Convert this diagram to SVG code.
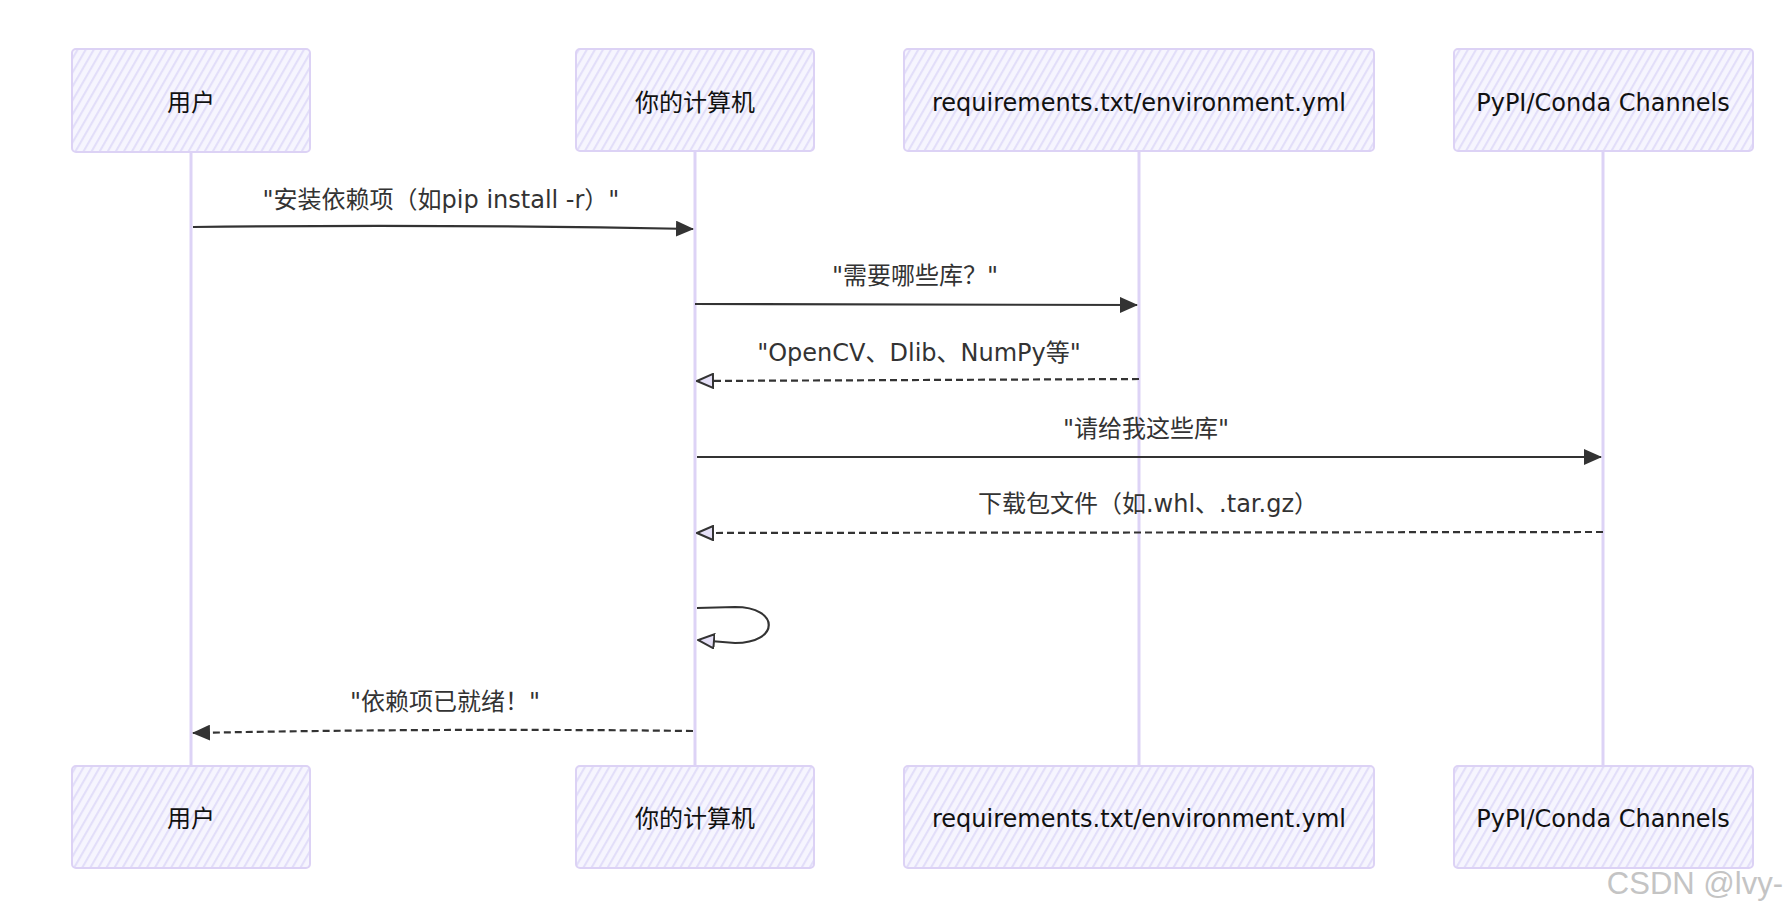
<svg xmlns="http://www.w3.org/2000/svg" width="1790" height="912" viewBox="0 0 1790 912">
<defs>
<pattern id="hatch" patternUnits="userSpaceOnUse" width="7" height="7" patternTransform="rotate(30)">
<rect width="7" height="7" fill="#f6f5fe"/>
<line x1="1" y1="0" x2="1" y2="7" stroke="#e2def9" stroke-width="2.2"/>
</pattern>
<marker id="solid" markerWidth="18" markerHeight="16" refX="17" refY="8" orient="auto" markerUnits="userSpaceOnUse">
<path d="M0,0 L18,8 L0,16 Z" fill="#333"/>
</marker>
<marker id="open" markerWidth="18" markerHeight="16" refX="17" refY="8" orient="auto" markerUnits="userSpaceOnUse">
<path d="M1,1 L17,8 L1,15 Z" fill="#e6e1f8" stroke="#333" stroke-width="2"/>
</marker>
<style>
.box{fill:url(#hatch);stroke:#dcd2f5;stroke-width:2}
.life{stroke:#ddd3f6;stroke-width:3;fill:none}
.atxt{font-family:"DejaVu Sans","Noto Sans CJK SC",sans-serif;font-size:24px;fill:#111;text-anchor:middle}
.mtxt{font-family:"DejaVu Sans","Noto Sans CJK SC",sans-serif;font-size:24px;fill:#333;text-anchor:middle}
.msg{stroke:#333;stroke-width:2.2;fill:none}
.dash{stroke-dasharray:7,4}
</style>
</defs>
<rect width="1790" height="912" fill="#fff"/>
<g id="lifelines">
<line class="life" x1="191" y1="152" x2="191" y2="765"/>
<line class="life" x1="695" y1="152" x2="695" y2="765"/>
<line class="life" x1="1139" y1="152" x2="1139" y2="765"/>
<line class="life" x1="1603" y1="152" x2="1603" y2="765"/>
</g>
<g id="actor-user-top"><rect class="box" x="72" y="49" width="238" height="103" rx="4"/><text class="atxt" x="191" y="111">用户</text></g>
<g id="actor-pc-top"><rect class="box" x="576" y="49" width="238" height="102" rx="4"/><text class="atxt" x="695" y="111">你的计算机</text></g>
<g id="actor-req-top"><rect class="box" x="904" y="49" width="470" height="102" rx="4"/><text class="atxt" x="1139" y="111">requirements.txt/environment.yml</text></g>
<g id="actor-pypi-top"><rect class="box" x="1454" y="49" width="299" height="102" rx="4"/><text class="atxt" x="1603" y="111">PyPI/Conda Channels</text></g>
<g id="actor-user-bottom"><rect class="box" x="72" y="766" width="238" height="102" rx="4"/><text class="atxt" x="191" y="827">用户</text></g>
<g id="actor-pc-bottom"><rect class="box" x="576" y="766" width="238" height="102" rx="4"/><text class="atxt" x="695" y="827">你的计算机</text></g>
<g id="actor-req-bottom"><rect class="box" x="904" y="766" width="470" height="102" rx="4"/><text class="atxt" x="1139" y="827">requirements.txt/environment.yml</text></g>
<g id="actor-pypi-bottom"><rect class="box" x="1454" y="766" width="299" height="102" rx="4"/><text class="atxt" x="1603" y="827">PyPI/Conda Channels</text></g>
<g id="connectors">
<path class="msg" d="M193,227 Q440,224 693,229" marker-end="url(#solid)"/>
<path class="msg" d="M695,304 L1137,305" marker-end="url(#solid)"/>
<path class="msg dash" d="M1139,379 L697,381" marker-end="url(#open)"/>
<path class="msg" d="M697,457 L1601,457" marker-end="url(#solid)"/>
<path class="msg dash" d="M1603,532 L697,533" marker-end="url(#open)"/>
<path class="msg" d="M697,608 L735,607 C780,607 780,643 735,643 L698,640" marker-end="url(#open)"/>
<path class="msg dash" d="M693,731 Q440,728 193,733" marker-end="url(#solid)"/>
</g>
<g id="labels">
<text class="mtxt" x="441" y="208">"安装依赖项（如pip install -r）"</text>
<text class="mtxt" x="915" y="284">"需要哪些库？"</text>
<text class="mtxt" x="919" y="361">"OpenCV、Dlib、NumPy等"</text>
<text class="mtxt" x="1146" y="437">"请给我这些库"</text>
<text class="mtxt" x="1148" y="512">下载包文件（如.whl、.tar.gz）</text>
<text class="mtxt" x="445" y="710">"依赖项已就绪！"</text>
</g>
<text x="1783" y="894" font-family="Liberation Sans, Arial, sans-serif" font-size="31" fill="#c4c4c4" text-anchor="end">CSDN @lvy-</text>
</svg>
